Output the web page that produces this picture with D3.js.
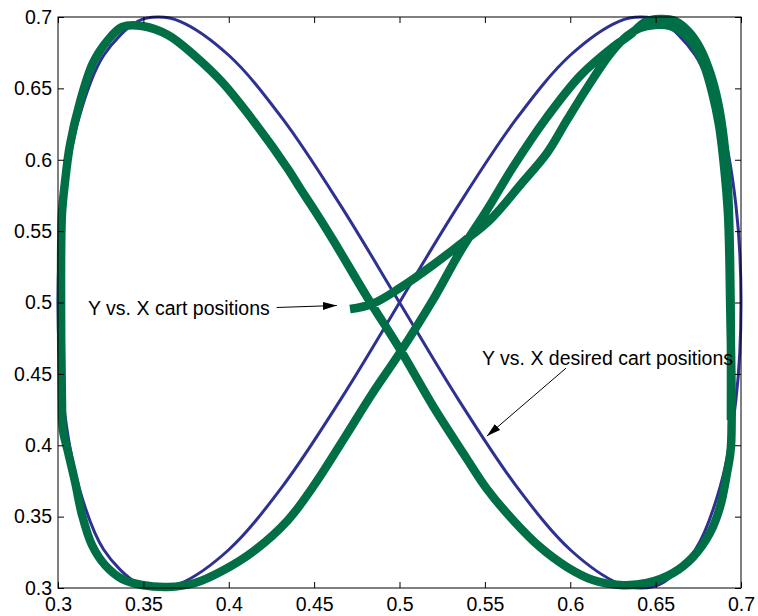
<!DOCTYPE html>
<html>
<head>
<meta charset="utf-8">
<script src="https://cdn.jsdelivr.net/npm/d3@7"></script>
<style>
  html, body { margin: 0; padding: 0; background: #fff; }
  svg { display: block; }
  text { font-family: "Liberation Sans", Arial, Helvetica, sans-serif; }
</style>
</head>
<body>
<svg id="chart" width="758" height="616"></svg>
<script>
// ---- data ----
const xTicks = [0.3, 0.35, 0.4, 0.45, 0.5, 0.55, 0.6, 0.65, 0.7];
const yTicks = [0.3, 0.35, 0.4, 0.45, 0.5, 0.55, 0.6, 0.65, 0.7];
const xTickLabels = ["0.3","0.35","0.4","0.45","0.5","0.55","0.6","0.65","0.7"];
const yTickLabels = ["0.3","0.35","0.4","0.45","0.5","0.55","0.6","0.65","0.7"];

// desired cart positions (blue)
const desiredX = [0.5000,0.5347,0.5684,0.6000,0.6286,0.6414,0.6532,0.6732,0.6879,0.6970,0.7000,
  0.6970,0.6879,0.6732,0.6532,0.6414,0.6286,0.6000,0.5684,0.5347,0.5000,
  0.4653,0.4316,0.4000,0.3714,0.3586,0.3468,0.3268,0.3121,0.3030,0.3000,
  0.3030,0.3121,0.3268,0.3468,0.3586,0.3714,0.4000,0.4316,0.4653,0.5000];
const desiredY = [0.5000,0.5684,0.6286,0.6732,0.6970,0.7000,0.6970,0.6732,0.6286,0.5684,0.5000,
  0.4316,0.3714,0.3268,0.3030,0.3000,0.3030,0.3268,0.3714,0.4316,0.5000,
  0.5684,0.6286,0.6732,0.6970,0.7000,0.6970,0.6732,0.6286,0.5684,0.5000,
  0.4316,0.3714,0.3268,0.3030,0.3000,0.3030,0.3268,0.3714,0.4316,0.5000];

// actual cart positions (green)
const cartX = [0.4710,0.4839,0.5003,0.5196,0.5372,0.5530,0.5717,0.5864,0.5981,0.6098,0.6233,0.6332,
  0.6408,0.6496,0.6584,0.6660,0.6731,0.6783,0.6830,0.6871,0.6900,0.6924,0.6936,0.6941,
  0.6918,0.6877,0.6818,0.6719,0.6602,0.6449,0.6291,0.6133,0.5981,0.5823,0.5665,0.5512,
  0.5395,0.5196,0.5009,0.4810,0.4611,0.4505,0.4417,0.4347,0.4154,0.3960,0.3802,0.3644,
  0.3492,0.3375,0.3293,0.3205,0.3129,0.3070,0.3041,0.3023,0.3018,0.3023,0.3029,0.3059,
  0.3100,0.3141,0.3199,0.3275,0.3375,0.3492,0.3644,0.3802,0.3960,0.4154,0.4347,0.4505,
  0.4681,0.4839,0.5009,0.5196,0.5354,0.5512,0.5665,0.5864,0.6057,0.6250,0.6350,0.6438,
  0.6526,0.6613,0.6690,0.6760,0.6818,0.6865,0.6900,0.6924,0.6936,0.6941,0.6941];
const cartY = [0.4954,0.4989,0.5102,0.5263,0.5424,0.5578,0.5837,0.6047,0.6278,0.6503,0.6741,0.6867,
  0.6923,0.6944,0.6937,0.6888,0.6790,0.6664,0.6475,0.6243,0.5963,0.5613,0.5018,0.3988,
  0.3806,0.3567,0.3385,0.3217,0.3105,0.3035,0.3021,0.3056,0.3147,0.3287,0.3476,0.3694,
  0.3904,0.4275,0.4660,0.5039,0.5438,0.5641,0.5802,0.5935,0.6257,0.6545,0.6727,0.6874,
  0.6937,0.6930,0.6839,0.6678,0.6405,0.6103,0.5844,0.5613,0.4982,0.4317,0.4107,0.3953,
  0.3743,0.3511,0.3301,0.3161,0.3063,0.3021,0.3007,0.3035,0.3119,0.3266,0.3476,0.3729,
  0.4058,0.4359,0.4660,0.5018,0.5354,0.5648,0.5949,0.6299,0.6587,0.6790,0.6874,0.6965,
  0.6986,0.6972,0.6902,0.6783,0.6615,0.6405,0.6138,0.5788,0.5298,0.4667,0.4177];

// annotations
const labelCart = "Y vs. X cart positions";
const labelDesired = "Y vs. X desired cart positions";
const arrowCart = { from: [0.4281, 0.4965], to: [0.4633, 0.4979] };
const arrowDesired = { from: [0.5975, 0.4540], to: [0.5512, 0.4064] };
const labelCartPos = [0.3176, 0.4909];
const labelDesiredPos = [0.5483, 0.4562];

// ---- drawing ----
const W = 758, H = 616;
const m = { left: 58, right: 741, top: 17, bottom: 588 };
const svg = d3.select("#chart");

const x = d3.scaleLinear().domain([0.3, 0.7]).range([m.left, m.right]);
const y = d3.scaleLinear().domain([0.3, 0.7]).range([m.bottom, m.top]);

svg.append("rect").attr("width", W).attr("height", H).attr("fill", "#fff");

const line = d3.line().x(d => x(d[0])).y(d => y(d[1])).curve(d3.curveCatmullRom.alpha(0.5));

const desired = desiredX.map((v, i) => [v, desiredY[i]]);
const cart = cartX.map((v, i) => [v, cartY[i]]);

svg.append("path").datum(desired)
  .attr("d", line).attr("fill", "none")
  .attr("stroke", "#2e3192").attr("stroke-width", 3)
  .attr("stroke-linejoin", "round").attr("stroke-linecap", "round");

svg.append("path").datum(cart)
  .attr("d", line).attr("fill", "none")
  .attr("stroke", "#006f46").attr("stroke-width", 8.5)
  .attr("stroke-linejoin", "round").attr("stroke-linecap", "butt");

// axes (ticks inward, on all four sides)
const tickLen = 6;
const fontSize = 19.5;
const axB = svg.append("g").attr("transform", `translate(0,${m.bottom})`)
  .call(d3.axisBottom(x).tickValues(xTicks).tickFormat((d, i) => xTickLabels[i])
        .tickSizeInner(-tickLen).tickSizeOuter(0).tickPadding(12));
const axT = svg.append("g").attr("transform", `translate(0,${m.top})`)
  .call(d3.axisTop(x).tickValues(xTicks).tickFormat("")
        .tickSizeInner(-tickLen).tickSizeOuter(0));
const axL = svg.append("g").attr("transform", `translate(${m.left},0)`)
  .call(d3.axisLeft(y).tickValues(yTicks).tickFormat((d, i) => yTickLabels[i])
        .tickSizeInner(-tickLen).tickSizeOuter(0).tickPadding(12));
const axR = svg.append("g").attr("transform", `translate(${m.right},0)`)
  .call(d3.axisRight(y).tickValues(yTicks).tickFormat("")
        .tickSizeInner(-tickLen).tickSizeOuter(0));

[axB, axT, axL, axR].forEach(a => {
  a.select(".domain").remove();
  a.selectAll("line").attr("stroke", "#000").attr("stroke-width", 1);
  a.selectAll("text").attr("fill", "#000").style("font-size", fontSize + "px")
    .style("font-family", '"Liberation Sans", Arial, Helvetica, sans-serif');
});
axB.selectAll("text").attr("dy", "0.71em").attr("y", 9);
axL.selectAll("text").attr("x", -6);

// box
svg.append("rect")
  .attr("x", m.left).attr("y", m.top)
  .attr("width", m.right - m.left).attr("height", m.bottom - m.top)
  .attr("fill", "none").attr("stroke", "#000").attr("stroke-width", 1);

// arrows
const defs = svg.append("defs");
defs.append("marker").attr("id", "ah")
  .attr("viewBox", "0 0 14 8").attr("refX", 14).attr("refY", 4)
  .attr("markerWidth", 14).attr("markerHeight", 8)
  .attr("markerUnits", "userSpaceOnUse").attr("orient", "auto")
  .append("path").attr("d", "M0,0 L14,4 L0,8 Z").attr("fill", "#000");

[arrowCart, arrowDesired].forEach(a => {
  svg.append("line")
    .attr("x1", x(a.from[0])).attr("y1", y(a.from[1]))
    .attr("x2", x(a.to[0])).attr("y2", y(a.to[1]))
    .attr("stroke", "#000").attr("stroke-width", 1)
    .attr("marker-end", "url(#ah)");
});

svg.append("text").attr("x", x(labelCartPos[0])).attr("y", y(labelCartPos[1]))
  .attr("fill", "#000").style("font-size", fontSize + "px").text(labelCart);
svg.append("text").attr("x", x(labelDesiredPos[0])).attr("y", y(labelDesiredPos[1]))
  .attr("fill", "#000").style("font-size", fontSize + "px").text(labelDesired);
</script>
</body>
</html>
